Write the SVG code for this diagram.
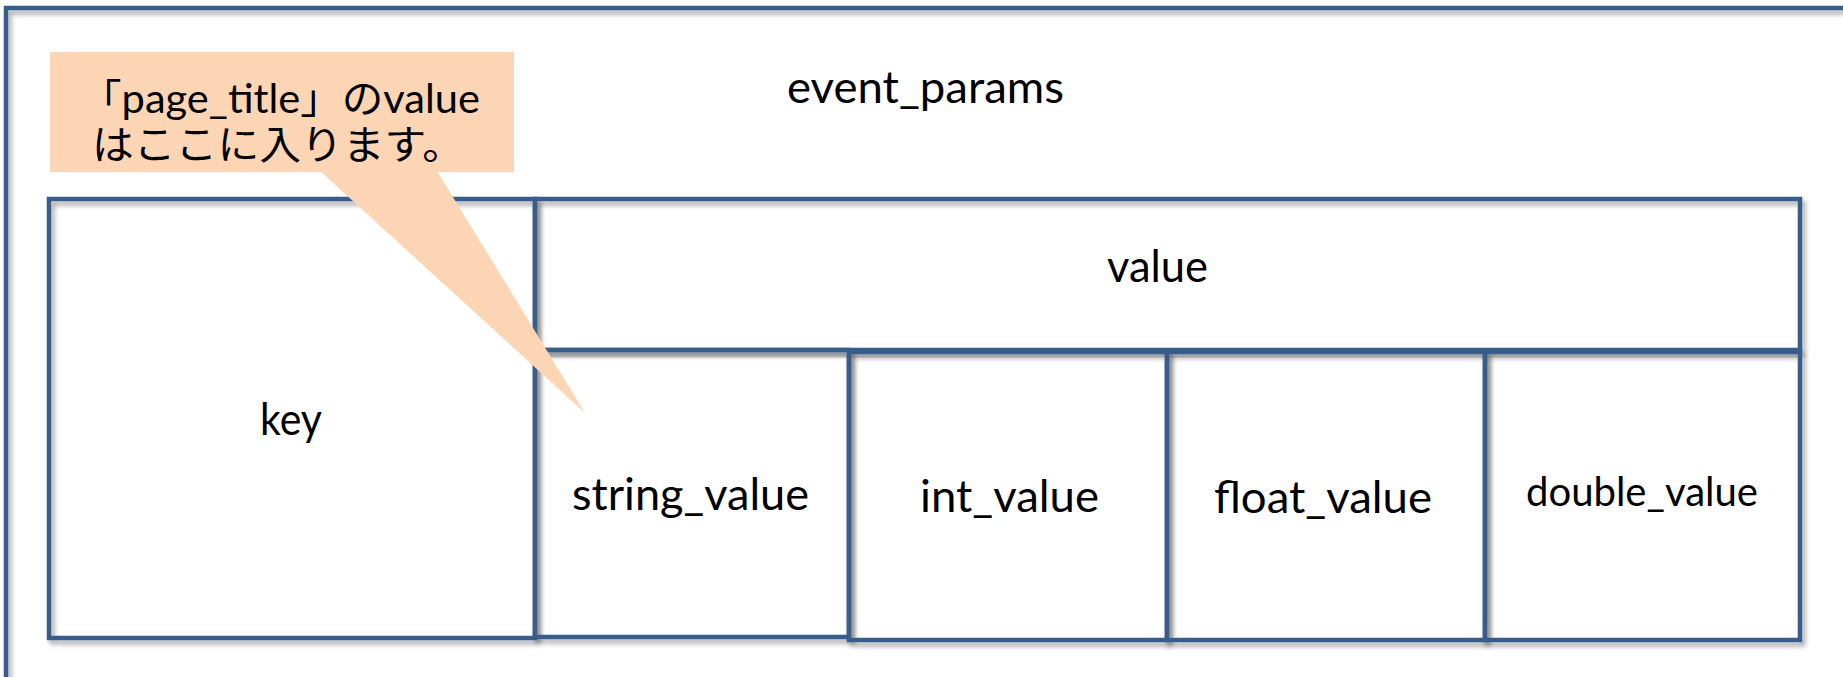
<svg xmlns="http://www.w3.org/2000/svg" width="1843" height="677" viewBox="0 0 1843 677">
<defs>
<filter id="sh" x="-5%" y="-5%" width="110%" height="110%">
<feDropShadow dx="3" dy="4" stdDeviation="2.5" flood-color="#000" flood-opacity="0.35"/>
</filter>
</defs>
<style>
.box{fill:none;stroke:#385D8A;stroke-width:4.5;filter:url(#sh)}
.t{font-family:Lato,"Noto Sans CJK JP",sans-serif;font-size:45px;fill:#000}
.s{font-size:41px}
.j{font-family:Lato,"Noto Sans CJK JP",sans-serif;font-size:40px;fill:#000}
.call{fill:#FCD5B5}
</style>
<rect width="1843" height="677" fill="#fff"/>
<g id="event_params">
<rect class="box" x="6" y="8" width="1900" height="720"/>
<text class="t" x="787" y="103" textLength="277" lengthAdjust="spacingAndGlyphs">event_params</text>
</g>
<g id="key">
<rect class="box" x="49" y="199" width="486" height="439"/>
<text class="t" x="260" y="435" textLength="62" lengthAdjust="spacingAndGlyphs">key</text>
</g>
<g id="value">
<rect class="box" x="535" y="199" width="1265" height="151"/>
<text class="t" x="1107" y="282" textLength="101" lengthAdjust="spacingAndGlyphs">value</text>
</g>
<g id="string_value">
<rect class="box" x="535" y="350" width="314" height="287"/>
<text class="t" x="572" y="510" textLength="237" lengthAdjust="spacingAndGlyphs">string_value</text>
</g>
<g id="int_value">
<rect class="box" x="849" y="352" width="318" height="288"/>
<text class="t" x="920" y="512" textLength="179" lengthAdjust="spacingAndGlyphs">int_value</text>
</g>
<g id="float_value">
<rect class="box" x="1167" y="352" width="318" height="288"/>
<text class="t" x="1214" y="513" textLength="218" lengthAdjust="spacingAndGlyphs">float_value</text>
</g>
<g id="double_value">
<rect class="box" x="1485" y="352" width="315" height="288"/>
<text class="t s" x="1526" y="506" textLength="232" lengthAdjust="spacingAndGlyphs">double_value</text>
</g>
<g id="connectors"></g>
<g id="callout">
<rect class="call" x="50" y="52" width="464" height="120"/>
<polygon class="call" points="320,171 437,171 585,413"/>
<text class="j" x="80" y="113" textLength="400" lengthAdjust="spacingAndGlyphs">「page_title」のvalue</text>
<text class="j" x="92" y="159" textLength="372" lengthAdjust="spacingAndGlyphs">はここに入ります。</text>
</g>
</svg>
